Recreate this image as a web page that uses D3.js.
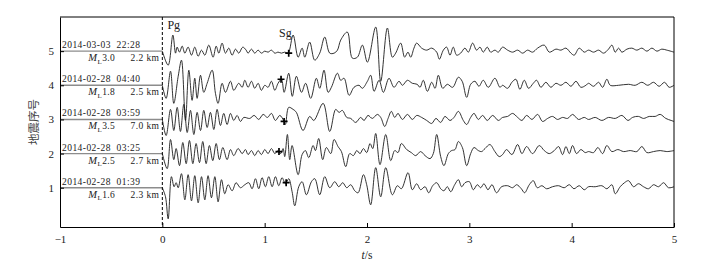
<!DOCTYPE html>
<html>
<head>
<meta charset="utf-8">
<script src="https://cdn.jsdelivr.net/npm/d3@7"></script>
<style>
  body { margin: 0; background: #fff; }
  svg { display: block; }
  text { font-family: "Liberation Serif", serif; fill: #222; }
</style>
</head>
<body>
<svg id="chart" width="727" height="272"></svg>
<script>
// event labels, from trace 1 (bottom) to trace 5 (top)
const eventTimes = ["2014-02-28  01:39", "2014-02-28  03:25", "2014-02-28  03:59", "2014-02-28  04:40", "2014-03-03  22:28"];
const magnitudes = ["1.6", "2.5", "3.5", "1.8", "3.0"];
const distances = ["2.3 km", "2.7 km", "7.0 km", "2.5 km", "2.2 km"];

// Sg picks: [time s, amplitude counts]
const sgPicks = [[1.21, 5], [1.14, 2], [1.19, -2], [1.16, 6], [1.235, -2]];

const xTicks = [-1, 0, 1, 2, 3, 4, 5];
const yTicks = [1, 2, 3, 4, 5];

// waveforms as [time s, amplitude counts]
const trace1 = [[0,0],[0.031,-9],[0.057,-31],[0.089,11],[0.115,1],[0.135,5],[0.155,0],[0.187,14],[0.22,-12],[0.252,13],[0.285,-13],[0.317,12],[0.35,-15],[0.383,11],[0.415,-12],[0.447,12],[0.48,-10],[0.513,11],[0.545,-14],[0.578,8],[0.61,-6],[0.643,3],[0.682,-3],[0.721,5],[0.763,0],[0.806,3],
  [0.845,5],[0.877,-1],[0.91,9],[0.942,-1],[0.975,10],[1.007,1],[1.04,11],[1.073,1],[1.105,11],[1.138,2],[1.17,10],[1.203,4],[1.235,9],[1.268,-4],[1.294,-18],[1.333,1],[1.366,6],[1.408,-7],[1.457,6],[1.49,9],[1.538,-7],[1.587,11],[1.636,0],
  [1.685,6],[1.724,1],[1.763,5],[1.802,0],[1.841,3],[1.88,-3],[1.913,-5],[1.965,13],[1.997,3],[2.036,-17],[2.085,20],[2.134,-9],[2.183,20],[2.248,-7],[2.297,2],[2.336,-1],[2.401,15],[2.443,-2],[2.486,4],
  [2.524,-2],[2.567,1],[2.603,-5],[2.642,2],[2.681,5],[2.72,-1],[2.752,-3],[2.785,1],[2.818,-4],[2.857,3],[2.893,8],[2.925,1],[2.958,5],[3.0,6],[3.039,-2],[3.078,3],[3.111,0],[3.143,4],[3.182,-2],[3.221,3],[3.266,-5],[3.315,1],
  [3.374,2],[3.423,0],[3.462,3],[3.508,-1],[3.54,-5],[3.586,3],[3.625,7],[3.664,0],[3.709,2],[3.755,-1],[3.813,1],[3.872,2],[3.927,0],[3.977,3],[4.022,-1],[4.074,2],[4.123,-2],[4.165,1],
  [4.23,1],[4.295,2],[4.344,-1],[4.393,3],[4.426,-6],[4.474,1],[4.516,5],[4.556,7],[4.605,1],[4.653,4],[4.702,1],[4.751,-1],[4.8,3],[4.849,1],[4.898,5],[4.946,0],[5,1]];

const trace2 = [[0,0],[0.047,-15],[0.08,14],[0.112,-6],[0.135,5],[0.168,-12],[0.2,11],[0.233,-10],[0.265,13],[0.298,-10],[0.33,10],[0.363,-9],[0.395,12],[0.428,-10],[0.46,8],[0.493,-7],[0.526,10],[0.558,-6],[0.591,6],[0.633,-6],[0.666,4],[0.698,-2],[0.741,5],[0.78,0],[0.812,4],
  [0.838,-1],[0.871,3],[0.903,-2],[0.936,3],[0.968,-1],[1.001,4],[1.033,0],[1.066,5],[1.099,0],[1.131,3],[1.157,0],[1.18,5],[1.196,-3],[1.222,19],[1.245,-6],[1.268,8],[1.327,-21],[1.366,-1],[1.398,3],[1.431,-4],[1.473,8],[1.496,3],[1.528,15],[1.567,-6],[1.603,6],[1.646,0],
  [1.678,14],[1.717,7],[1.75,2],[1.792,-13],[1.831,0],[1.867,-2],[1.9,3],[1.932,0],[1.965,5],[1.997,1],[2.03,10],[2.056,5],[2.085,20],[2.127,-11],[2.183,19],[2.232,-7],[2.271,3],[2.303,1],[2.336,10],[2.388,4],[2.433,1],[2.476,-2],
  [2.524,2],[2.567,-2],[2.616,-5],[2.648,0],[2.681,19],[2.72,-3],[2.752,-12],[2.795,0],[2.827,3],[2.86,4],[2.893,12],[2.932,6],[2.974,-12],[3.013,0],[3.046,6],[3.088,3],[3.12,2],[3.153,5],[3.201,9],[3.25,2],[3.292,-3],[3.325,-1],
  [3.364,4],[3.416,-1],[3.472,9],[3.514,0],[3.56,7],[3.618,0],[3.683,8],[3.732,3],[3.781,0],[3.83,3],[3.872,7],[3.911,-1],[3.944,7],[3.977,0],[4.009,8],[4.048,0],[4.09,4],[4.133,1],[4.165,2],
  [4.214,1],[4.256,6],[4.302,0],[4.344,8],[4.393,2],[4.451,4],[4.507,2],[4.572,3],[4.637,2],[4.686,7],[4.735,1],[4.8,2],[4.865,3],[4.93,2],[5,3]];

const trace3 = [[0,0],[0.037,-16],[0.08,10],[0.112,-11],[0.145,12],[0.177,-12],[0.21,15],[0.243,-13],[0.275,9],[0.308,-15],[0.34,7],[0.373,-11],[0.405,9],[0.438,-8],[0.47,7],[0.503,-10],[0.535,10],[0.568,-6],[0.6,6],[0.633,-5],[0.666,6],[0.698,-1],[0.731,4],[0.763,-2],[0.796,2],
  [0.854,1],[0.897,4],[0.942,0],[0.985,5],[1.027,2],[1.066,6],[1.105,-1],[1.148,4],[1.19,-2],[1.203,-5],[1.235,12],[1.278,10],[1.31,7],[1.375,-11],[1.44,3],[1.48,-1],[1.571,16],[1.636,-12],
  [1.694,10],[1.727,7],[1.759,9],[1.802,2],[1.841,1],[1.89,-3],[1.938,2],[1.971,-1],[2.01,4],[2.052,1],[2.101,5],[2.134,2],[2.173,-7],[2.206,1],[2.238,8],[2.271,2],[2.303,6],[2.346,0],[2.395,5],[2.443,0],[2.486,4],
  [2.534,2],[2.583,-1],[2.632,-4],[2.674,1],[2.72,-3],[2.762,3],[2.811,-1],[2.85,2],[2.893,8],[2.941,-1],[2.974,-5],[3.013,2],[3.046,6],[3.088,0],[3.13,4],[3.175,-1],[3.228,4],[3.283,-1],[3.325,2],
  [3.374,3],[3.423,6],[3.472,2],[3.514,-1],[3.56,4],[3.612,0],[3.667,5],[3.716,-2],[3.765,1],[3.813,3],[3.862,0],[3.911,2],[3.96,1],[4.009,5],[4.067,0],[4.123,2],[4.165,0],
  [4.23,2],[4.295,-1],[4.36,2],[4.426,1],[4.491,4],[4.55,-1],[4.595,2],[4.653,3],[4.702,1],[4.758,3],[4.816,3],[4.865,5],[4.92,1],[4.972,-1],[5,-2]];

const trace4 = [[0,0],[0.037,-13],[0.08,14],[0.112,-18],[0.155,9],[0.187,25],[0.226,-35],[0.259,15],[0.291,-15],[0.317,7],[0.34,-13],[0.373,10],[0.405,-7],[0.438,2],[0.487,15],[0.519,-8],[0.545,-18],[0.584,2],[0.617,-7],[0.666,4],[0.698,-5],[0.747,2],[0.78,-2],[0.806,5],
  [0.838,-2],[0.871,4],[0.903,-3],[0.936,2],[0.968,-5],[1.001,0],[1.033,-2],[1.066,4],[1.099,-5],[1.131,2],[1.164,6],[1.19,-7],[1.235,12],[1.27,-11],[1.31,9],[1.36,-7],[1.4,2],[1.45,-13],[1.505,7],[1.538,-3],[1.58,15],[1.62,-7],[1.652,-2],
  [1.711,12],[1.743,5],[1.776,7],[1.825,-10],[1.873,-2],[1.922,0],[1.955,-3],[2.004,4],[2.036,10],[2.069,-6],[2.118,5],[2.16,-7],[2.215,7],[2.264,-2],[2.313,4],[2.346,0],[2.395,5],[2.443,2],[2.49,1],
  [2.518,-2],[2.55,5],[2.59,-6],[2.632,3],[2.665,-3],[2.697,10],[2.74,-3],[2.785,1],[2.837,-2],[2.893,8],[2.93,4],[2.974,-12],[3.013,1],[3.055,4],[3.094,-1],[3.136,5],[3.185,-2],[3.25,7],[3.299,-2],
  [3.325,0],[3.374,-3],[3.416,3],[3.455,6],[3.494,-4],[3.537,5],[3.579,-3],[3.625,2],[3.657,5],[3.7,-2],[3.748,3],[3.797,-2],[3.846,2],[3.895,0],[3.944,3],[3.993,-1],[4.042,4],[4.09,-2],[4.139,0],
  [4.165,2],[4.214,-1],[4.263,3],[4.302,-2],[4.344,6],[4.377,0],[4.458,0],[4.556,1],[4.621,0],[4.686,3],[4.744,0],[4.8,3],[4.855,-1],[4.907,3],[4.953,-2],[5,0]];

const trace5 = [[0,0],[0.057,-14],[0.103,16],[0.129,-2],[0.145,4],[0.168,-1],[0.194,5],[0.22,-2],[0.252,4],[0.285,-4],[0.317,4],[0.35,-5],[0.383,1],[0.415,-4],[0.454,6],[0.496,-6],[0.526,5],[0.552,-2],[0.584,8],[0.617,-2],[0.649,3],[0.682,-4],[0.715,2],[0.747,-2],[0.786,4],[0.819,1],
  [0.838,-2],[0.871,2],[0.903,-2],[0.936,1],[0.968,-2],[1.001,0],[1.033,-1],[1.066,1],[1.099,-2],[1.131,-1],[1.164,-2],[1.196,-1],[1.229,-2],[1.278,16],[1.327,-6],[1.366,3],[1.392,-6],[1.44,9],[1.489,-9],[1.538,-2],[1.587,14],[1.636,-2],
  [1.678,-2],[1.711,1],[1.743,11],[1.808,19],[1.857,-7],[1.906,-6],[1.955,6],[2.004,-11],[2.085,24],[2.134,-30],[2.199,23],[2.248,-6],[2.28,-2],[2.329,8],[2.368,-6],[2.4,-1],[2.427,-6],[2.459,3],
  [2.485,8],[2.534,3],[2.583,1],[2.632,3],[2.681,-1],[2.707,-8],[2.746,1],[2.778,4],[2.811,-4],[2.843,4],[2.876,-4],[2.915,-2],[2.957,3],[2.99,-1],[3.032,8],[3.071,1],[3.104,4],[3.136,-1],[3.175,4],[3.208,-1],[3.25,1],[3.283,-1],[3.325,4],
  [3.374,1],[3.423,-1],[3.472,1],[3.521,-2],[3.569,1],[3.618,-1],[3.667,3],[3.732,6],[3.781,-1],[3.846,2],[3.895,1],[3.944,3],[3.993,-2],[4.025,-4],[4.074,3],[4.123,-1],[4.165,1],
  [4.214,-1],[4.263,1],[4.312,-2],[4.36,2],[4.393,6],[4.426,-1],[4.458,3],[4.491,-1],[4.54,2],[4.588,3],[4.637,1],[4.686,3],[4.735,0],[4.784,3],[4.833,0],[4.881,2],[4.93,1],[5,-1]];

const traces = [trace1, trace2, trace3, trace4, trace5];
const gain = 1 / 34; // counts -> trace spacing
const serif = "'Liberation Serif', serif";

const svg = d3.select("#chart");
const margin = {top: 17, right: 53, bottom: 45, left: 60};
const W = +svg.attr("width"), H = +svg.attr("height");

const x = d3.scaleLinear().domain([-1, 5]).range([margin.left, W - margin.right]);
const y = d3.scaleLinear().domain([-0.15, 6]).range([H - margin.bottom, margin.top]);

// pre-event flat lines (gray), one per trace
svg.append("g").selectAll("line").data(traces).join("line")
  .attr("x1", x(-1)).attr("x2", x(0))
  .attr("y1", (d, i) => y(i + 1)).attr("y2", (d, i) => y(i + 1))
  .attr("stroke", "#8c8c8c").attr("stroke-width", 1.4);

// waveforms
const line = d3.line().curve(d3.curveCatmullRom.alpha(0.5));
svg.append("g").selectAll("path").data(traces).join("path")
  .attr("d", (d, i) => line(d.map(p => [x(p[0]), y(i + 1 + p[1] * gain)])))
  .attr("fill", "none").attr("stroke", "#1c1c1c").attr("stroke-width", 0.9)
  .attr("stroke-linejoin", "round");

// origin dashed line
svg.append("line")
  .attr("x1", x(0)).attr("x2", x(0)).attr("y1", y(6)).attr("y2", y(-0.15))
  .attr("stroke", "#000").attr("stroke-width", 1).attr("stroke-dasharray", "3,2");

// Sg picks
svg.append("g").selectAll("path").data(sgPicks).join("path")
  .attr("transform", (d, i) => `translate(${x(d[0])},${y(i + 1 + d[1] * gain)})`)
  .attr("d", "M-3.5,0H3.5M0,-3.5V3.5")
  .attr("stroke", "#000").attr("stroke-width", 1.7);

// event labels
const lab = svg.append("g");
eventTimes.forEach((s, i) => {
  const yy = y(i + 1);
  lab.append("text").attr("x", x(-1) + 2).attr("y", yy - 3)
    .attr("font-size", 9.5).attr("letter-spacing", 0.45).style("white-space", "pre").text(s);
  const m = lab.append("text").attr("x", x(0) - 74).attr("y", yy + 10)
    .attr("font-size", 9.5).attr("letter-spacing", 0.4);
  m.append("tspan").attr("font-style", "italic").attr("font-size", 10.5).text("M");
  m.append("tspan").attr("font-size", 7).attr("dy", 2.5).text("L");
  m.append("tspan").attr("dy", -2.5).text(magnitudes[i]);
  lab.append("text").attr("x", x(0) - 3).attr("y", yy + 10).attr("text-anchor", "end")
    .attr("font-size", 9.5).attr("letter-spacing", 0.4).text(distances[i]);
});

// phase names
svg.append("text").attr("x", x(0.05)).attr("y", 29).attr("font-size", 12).text("Pg");
svg.append("text").attr("x", x(1.14)).attr("y", 37).attr("font-size", 12).text("Sg");

// axes
svg.append("g").attr("transform", `translate(0,${y(-0.15)})`)
  .call(d3.axisBottom(x).tickValues(xTicks).tickSizeInner(-4).tickSizeOuter(0).tickPadding(8)
    .tickFormat(d => d < 0 ? "\u22121" : d))
  .call(g => g.selectAll("text").attr("font-size", 11).style("font-family", serif).style("fill", "#222"))
  .call(g => g.select(".domain").attr("stroke", "#000"));

svg.append("g").attr("transform", `translate(${x(-1)},0)`)
  .call(d3.axisLeft(y).tickValues(yTicks).tickFormat(d3.format("d"))
    .tickSizeInner(-4).tickSizeOuter(0).tickPadding(6))
  .call(g => g.selectAll("text").attr("font-size", 11).style("font-family", serif).style("fill", "#222"))
  .call(g => g.select(".domain").attr("stroke", "#000"));

// frame top / right
svg.append("path")
  .attr("d", `M${x(-1)},${y(6)}H${x(5)}V${y(-0.15)}`)
  .attr("fill", "none").attr("stroke", "#000");

// axis titles
const xt = svg.append("text").attr("x", (x(-1) + x(5)) / 2).attr("y", 259)
  .attr("text-anchor", "middle").attr("font-size", 11.5).style("font-family", serif);
xt.append("tspan").attr("font-style", "italic").text("t");
xt.append("tspan").text("/s");

svg.append("text")
  .attr("transform", `translate(38,${(y(6) + y(-0.15)) / 2}) rotate(-90)`)
  .attr("text-anchor", "middle")
  .style("font-family", "'Noto Sans CJK SC', sans-serif").style("fill", "#444")
  .attr("font-size", 11.5).text("地震序号");
</script>
</body>
</html>
